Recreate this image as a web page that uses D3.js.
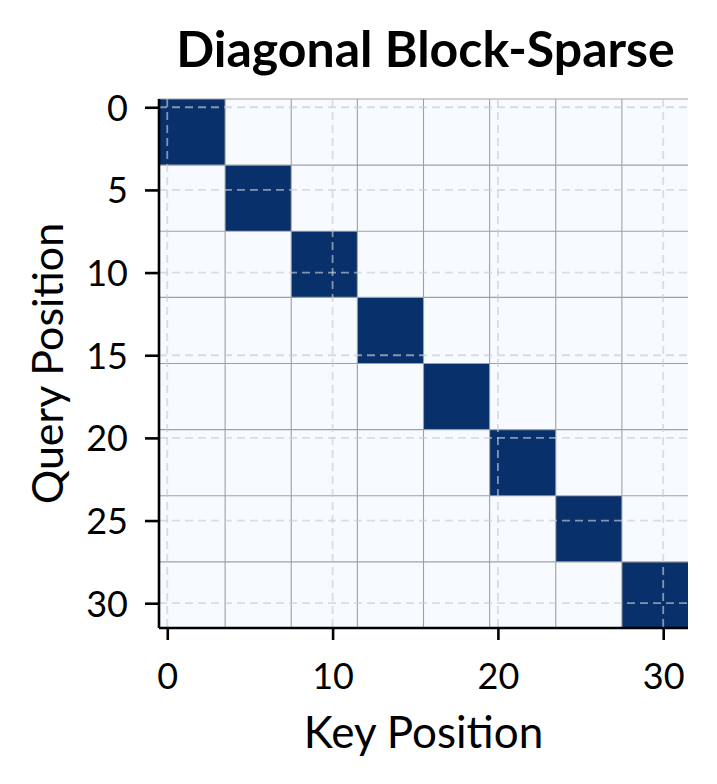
<!DOCTYPE html>
<html><head><meta charset="utf-8">
<script src="https://cdn.jsdelivr.net/npm/d3@7"></script>
<style>body{margin:0;background:#fff}svg{display:block}text{font-family:"Source Sans Pro","Lato","Noto Sans",sans-serif}</style>
</head><body><svg id="c" width="717" height="784"></svg>
<script>
const title = "Diagonal Block-Sparse";
const xLabel = "Key Position";
const yLabel = "Query Position";
const seqLen = 32;
const blockStarts = [0, 4, 8, 12, 16, 20, 24, 28];
const blockSize = 4;
const xTicks = [0, 10, 20, 30];
const yTicks = [0, 5, 10, 15, 20, 25, 30];
const colorLow = "#f7fbff", colorHigh = "#08306b";

const svg = d3.select("#c");
const L = 159, T = 99, W = 529, H = 529;
const x = d3.scaleLinear().domain([-0.5, seqLen - 0.5]).range([L, L + W]);
const y = d3.scaleLinear().domain([-0.5, seqLen - 0.5]).range([T, T + H]);

// cells
const cells = [];
for (let i = 0; i < seqLen; i++) for (let j = 0; j < seqLen; j++) {
  const bi = blockStarts.findIndex(s => i >= s && i < s + blockSize);
  const bj = blockStarts.findIndex(s => j >= s && j < s + blockSize);
  cells.push({i, j, v: bi === bj ? 1 : 0});
}
const color = d3.scaleLinear().domain([0, 1]).range([colorLow, colorHigh]);
svg.append("g").selectAll("rect").data(cells).join("rect")
  .attr("x", d => x(d.j - 0.5)).attr("y", d => y(d.i - 0.5))
  .attr("width", x(1) - x(0) + 0.3).attr("height", y(1) - y(0) + 0.3)
  .attr("fill", d => color(d.v)).attr("shape-rendering", "crispEdges");

// block boundary lines
const bounds = [-0.5].concat(blockStarts.slice(1).map(s => s - 0.5));
const g = svg.append("g");
bounds.forEach(b => {
  g.append("line").attr("x1", x(-0.5)).attr("x2", x(seqLen - 0.5)).attr("y1", y(b)).attr("y2", y(b))
    .attr("stroke", "#a0a0a0").attr("stroke-width", 1.1);
  g.append("line").attr("y1", y(-0.5)).attr("y2", y(seqLen - 0.5)).attr("x1", x(b)).attr("x2", x(b))
    .attr("stroke", "#a0a0a0").attr("stroke-width", 1.1);
});
// dashed tick grid
const gg = svg.append("g").attr("stroke", "#c8ccd2").attr("stroke-opacity", 0.65).attr("stroke-width", 1.8).attr("stroke-dasharray", "8,5");
xTicks.forEach(t => gg.append("line").attr("x1", x(t)).attr("x2", x(t)).attr("y1", T).attr("y2", T + H));
yTicks.forEach(t => gg.append("line").attr("y1", y(t)).attr("y2", y(t)).attr("x1", L).attr("x2", L + W));

// axes
const xAxis = d3.axisBottom(x).tickValues(xTicks).tickSize(12);
const yAxis = d3.axisLeft(y).tickValues(yTicks).tickSize(14);
const ax = svg.append("g").attr("transform", `translate(0,${T + H})`).call(xAxis);
const ay = svg.append("g").attr("transform", `translate(${L},0)`).call(yAxis);
[ax, ay].forEach(a => {
  a.select(".domain").attr("stroke", "#000").attr("stroke-width", 2.6);
  a.selectAll(".tick line").attr("stroke", "#000").attr("stroke-width", 2.6);
  a.selectAll(".tick text").attr("fill", "#000").style("font-size", "36px");
});
ax.selectAll(".tick text").attr("y", 61).attr("dy", "0");
ay.selectAll(".tick text").attr("x", -31).attr("dy", "0.36em");
ax.select(".domain").attr("d", `M${L},0H${L + W}`);
ay.select(".domain").attr("d", `M0,${T}V${T + H}`);

svg.append("text").attr("x", L + W / 2 + 2).attr("y", 67).attr("text-anchor", "middle")
  .style("font-size", "50px").style("font-weight", "bold").text(title);
svg.append("text").attr("x", L + W / 2).attr("y", 748).attr("text-anchor", "middle")
  .style("font-size", "44px").text(xLabel);
svg.append("text").attr("transform", `translate(63,${T + H / 2}) rotate(-90)`).attr("text-anchor", "middle")
  .style("font-size", "43px").text(yLabel);
</script></body></html>
